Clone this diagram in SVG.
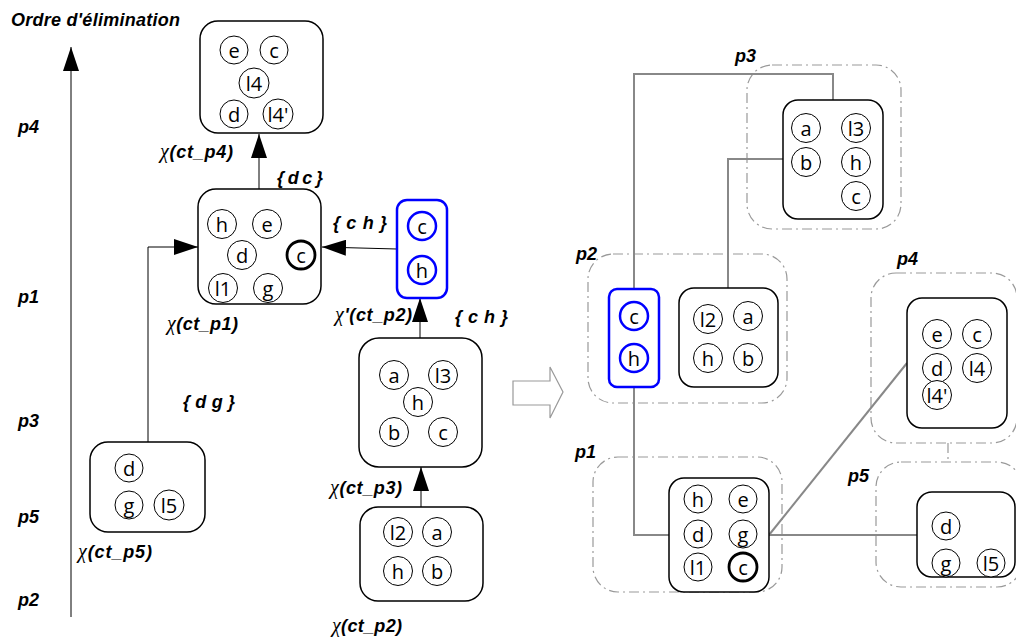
<svg xmlns="http://www.w3.org/2000/svg" width="1016" height="637" viewBox="0 0 1016 637">
<defs>
<style>
.lbl{font-family:"Liberation Sans",Arial,sans-serif;font-weight:bold;font-style:italic;font-size:18px;fill:#000}
.chi{font-family:"Liberation Serif","Times New Roman",serif;font-weight:normal;font-style:italic;font-size:20px}
.var{font-family:"Open Sans","Liberation Sans",Arial,sans-serif;font-size:20px;fill:#000;text-anchor:middle;dominant-baseline:central}
.cir{fill:#fff;stroke:#000;stroke-width:1}
.thick{fill:#fff;stroke:#000;stroke-width:2.8}
.bcir{fill:#fff;stroke:#0000ff;stroke-width:2.5}
.box{fill:#fff;stroke:#000;stroke-width:1.5}
.bbox{fill:#fff;stroke:#0000ff;stroke-width:2.5}
.region{fill:none;stroke:#999;stroke-width:1.2;stroke-dasharray:10,4,2,4}
.edge{fill:none;stroke:#000;stroke-width:1}
.gedge{fill:none;stroke:#888;stroke-width:2}
</style>
<marker id="ah" markerWidth="24" markerHeight="16" refX="24" refY="8" orient="auto" markerUnits="userSpaceOnUse">
<path d="M0,0 L24,8 L0,16 Z" fill="#000"/>
</marker>
</defs>

<!-- axis -->
<g id="axis">
<text class="lbl" x="11" y="26" textLength="169">Ordre d'élimination</text>
<line x1="71" y1="617" x2="71" y2="47" class="edge" marker-end="url(#ah)"/>
<text class="lbl" x="18" y="133">p4</text>
<text class="lbl" x="18" y="303">p1</text>
<text class="lbl" x="18" y="427">p3</text>
<text class="lbl" x="18" y="523">p5</text>
<text class="lbl" x="18" y="606">p2</text>
</g>

<!-- left connectors -->
<g id="left-connectors">
<line x1="259" y1="189" x2="259" y2="134" class="edge" marker-end="url(#ah)"/>
<polyline points="148,442 148,247 198,247" class="edge" marker-end="url(#ah)"/>
<line x1="397" y1="249" x2="322" y2="247" class="edge" marker-end="url(#ah)"/>
<line x1="420" y1="338" x2="420" y2="298" class="edge" marker-end="url(#ah)"/>
<line x1="421" y1="507" x2="421" y2="467" class="edge" marker-end="url(#ah)"/>
<text class="lbl" x="277" y="184" textLength="46">{ d c }</text>
<text class="lbl" x="333" y="229" textLength="54">{ c h }</text>
<text class="lbl" x="455" y="323" textLength="53">{ c h }</text>
<text class="lbl" x="183" y="408" textLength="52">{ d g }</text>
</g>

<!-- left nodes -->
<g id="L-ct_p4">
<rect x="200" y="21" width="123" height="112" rx="18" class="box"/>
<circle cx="234" cy="50" r="14" class="cir"/><text class="var" x="234" y="50">e</text>
<circle cx="274" cy="50" r="14" class="cir"/><text class="var" x="274" y="50">c</text>
<circle cx="254" cy="83" r="15" class="cir"/><text class="var" x="254" y="83">l4</text>
<circle cx="234" cy="114" r="14" class="cir"/><text class="var" x="234" y="114">d</text>
<circle cx="278" cy="114" r="15" class="cir"/><text class="var" x="278" y="114">l4'</text>
<text class="lbl" x="160" y="158" textLength="73"><tspan class="chi">χ</tspan>(ct_p4)</text>
</g>

<g id="L-ct_p1">
<rect x="198" y="189" width="123" height="115" rx="18" class="box"/>
<circle cx="222" cy="224" r="14.5" class="cir"/><text class="var" x="222" y="224">h</text>
<circle cx="267" cy="224" r="14.5" class="cir"/><text class="var" x="267" y="224">e</text>
<circle cx="242" cy="255" r="14.5" class="cir"/><text class="var" x="242" y="255">d</text>
<circle cx="301" cy="255" r="14" class="thick"/><text class="var" x="301" y="255">c</text>
<circle cx="223" cy="288" r="14.5" class="cir"/><text class="var" x="223" y="288">l1</text>
<circle cx="268" cy="288" r="14.5" class="cir"/><text class="var" x="268" y="288">g</text>
<text class="lbl" x="167" y="330" textLength="71"><tspan class="chi">χ</tspan>(ct_p1)</text>
</g>

<g id="L-ct_p2-prime">
<rect x="397" y="200" width="50" height="98" rx="10" class="bbox"/>
<circle cx="422" cy="226" r="14" class="bcir"/><text class="var" x="422" y="226">c</text>
<circle cx="422" cy="270" r="14" class="bcir"/><text class="var" x="422" y="270">h</text>
<text class="lbl" x="335" y="321" textLength="77"><tspan class="chi">χ</tspan>'(ct_p2)</text>
</g>

<g id="L-ct_p3">
<rect x="359" y="338" width="123" height="129" rx="20" class="box"/>
<circle cx="394" cy="375" r="14.5" class="cir"/><text class="var" x="394" y="375">a</text>
<circle cx="443" cy="375" r="14.5" class="cir"/><text class="var" x="443" y="375">l3</text>
<circle cx="418" cy="402" r="14.5" class="cir"/><text class="var" x="418" y="402">h</text>
<circle cx="394" cy="432" r="14.5" class="cir"/><text class="var" x="394" y="432">b</text>
<circle cx="443" cy="432" r="14.5" class="cir"/><text class="var" x="443" y="432">c</text>
<text class="lbl" x="330" y="494" textLength="72"><tspan class="chi">χ</tspan>(ct_p3)</text>
</g>

<g id="L-ct_p2">
<rect x="360" y="507" width="123" height="94" rx="18" class="box"/>
<circle cx="398" cy="532" r="14.5" class="cir"/><text class="var" x="398" y="532">l2</text>
<circle cx="437" cy="532" r="14.5" class="cir"/><text class="var" x="437" y="532">a</text>
<circle cx="398" cy="571" r="14.5" class="cir"/><text class="var" x="398" y="571">h</text>
<circle cx="437" cy="571" r="14.5" class="cir"/><text class="var" x="437" y="571">b</text>
<text class="lbl" x="332" y="632" textLength="70"><tspan class="chi">χ</tspan>(ct_p2)</text>
</g>

<g id="L-ct_p5">
<rect x="90" y="442" width="115" height="90" rx="18" class="box"/>
<circle cx="129" cy="468" r="14" class="cir"/><text class="var" x="129" y="468">d</text>
<circle cx="129" cy="505" r="14" class="cir"/><text class="var" x="129" y="505">g</text>
<circle cx="169" cy="505" r="15" class="cir"/><text class="var" x="169" y="505">l5</text>
<text class="lbl" x="78" y="558" textLength="74"><tspan class="chi">χ</tspan>(ct_p5)</text>
</g>

<!-- hollow transform arrow -->
<g id="transform-arrow">
<path d="M513,381 L550,381 L550,367 L563,392 L550,418 L550,405 L513,405 Z" fill="#fff" stroke="#999" stroke-width="1.2"/>
</g>

<!-- right regions -->
<g id="regions">
<rect x="747" y="65" width="154" height="164" rx="25" class="region"/>
<rect x="588" y="254" width="199" height="149" rx="25" class="region"/>
<rect x="871" y="273" width="146" height="170" rx="25" class="region"/>
<rect x="593" y="457" width="189" height="135" rx="25" class="region"/>
<rect x="876" y="462" width="146" height="125" rx="25" class="region"/>
<line x1="948" y1="443" x2="948" y2="462" class="region"/>
<text class="lbl" x="735" y="62">p3</text>
<text class="lbl" x="576" y="260">p2</text>
<text class="lbl" x="897" y="265">p4</text>
<text class="lbl" x="575" y="458">p1</text>
<text class="lbl" x="848" y="482">p5</text>
</g>

<!-- right connectors -->
<g id="right-connectors">
<polyline points="634,289 634,74 833,74 833,100" class="gedge"/>
<polyline points="783,159 728,159 728,288" class="gedge"/>
<polyline points="634,387 634,535 669,535" class="gedge"/>
<line x1="769" y1="535" x2="907" y2="363" class="gedge"/>
<line x1="769" y1="535" x2="917" y2="535" class="gedge"/>
</g>

<!-- right nodes -->
<g id="R-p3">
<rect x="783" y="100" width="100" height="119" rx="15" class="box"/>
<circle cx="806" cy="128" r="14.5" class="cir"/><text class="var" x="806" y="128">a</text>
<circle cx="856" cy="128" r="14.5" class="cir"/><text class="var" x="856" y="128">l3</text>
<circle cx="806" cy="162" r="14.5" class="cir"/><text class="var" x="806" y="162">b</text>
<circle cx="856" cy="162" r="14.5" class="cir"/><text class="var" x="856" y="162">h</text>
<circle cx="856" cy="196" r="14.5" class="cir"/><text class="var" x="856" y="196">c</text>
</g>

<g id="R-p2-prime">
<rect x="609" y="289" width="50" height="98" rx="8" class="bbox"/>
<circle cx="634" cy="316" r="14" class="bcir"/><text class="var" x="634" y="316">c</text>
<circle cx="634" cy="358" r="14" class="bcir"/><text class="var" x="634" y="358">h</text>
</g>

<g id="R-p2">
<rect x="679" y="288" width="99" height="99" rx="15" class="box"/>
<circle cx="708" cy="319" r="14.5" class="cir"/><text class="var" x="708" y="319">l2</text>
<circle cx="748" cy="316" r="14.5" class="cir"/><text class="var" x="748" y="316">a</text>
<circle cx="708" cy="358" r="14.5" class="cir"/><text class="var" x="708" y="358">h</text>
<circle cx="748" cy="358" r="14.5" class="cir"/><text class="var" x="748" y="358">b</text>
</g>

<g id="R-p4">
<rect x="907" y="298" width="100" height="130" rx="15" class="box"/>
<circle cx="937" cy="334" r="14.5" class="cir"/><text class="var" x="937" y="334">e</text>
<circle cx="977" cy="334" r="14.5" class="cir"/><text class="var" x="977" y="334">c</text>
<circle cx="937" cy="368" r="14.5" class="cir"/><text class="var" x="937" y="368">d</text>
<circle cx="977" cy="368" r="14.5" class="cir"/><text class="var" x="977" y="368">l4</text>
<circle cx="937" cy="395" r="14.5" class="cir"/><text class="var" x="937" y="395">l4'</text>
</g>

<g id="R-p1">
<rect x="669" y="478" width="100" height="114" rx="15" class="box"/>
<circle cx="698" cy="499" r="14" class="cir"/><text class="var" x="698" y="499">h</text>
<circle cx="743" cy="499" r="14" class="cir"/><text class="var" x="743" y="499">e</text>
<circle cx="698" cy="534" r="14" class="cir"/><text class="var" x="698" y="534">d</text>
<circle cx="743" cy="534" r="14" class="cir"/><text class="var" x="743" y="534">g</text>
<circle cx="698" cy="567" r="14" class="cir"/><text class="var" x="698" y="567">l1</text>
<circle cx="743" cy="567" r="14" class="thick"/><text class="var" x="743" y="567">c</text>
</g>

<g id="R-p5">
<rect x="917" y="492" width="98" height="85" rx="15" class="box"/>
<circle cx="946" cy="526" r="14" class="cir"/><text class="var" x="946" y="526">d</text>
<circle cx="946" cy="563" r="14" class="cir"/><text class="var" x="946" y="563">g</text>
<circle cx="991" cy="563" r="14" class="cir"/><text class="var" x="991" y="563">l5</text>
</g>
</svg>
